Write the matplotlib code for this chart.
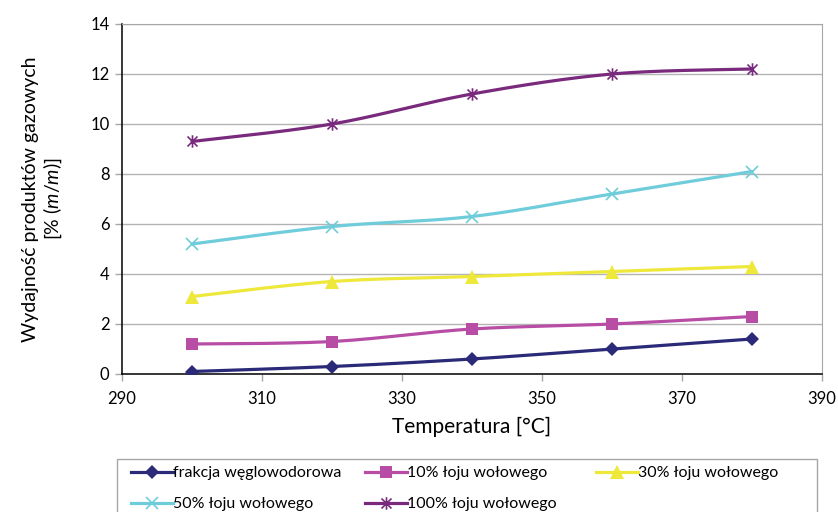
import numpy as np
import matplotlib
matplotlib.use("Agg")
import matplotlib.pyplot as plt
from matplotlib.path import Path
from matplotlib.lines import Line2D
from matplotlib.patches import Rectangle

plt.rcParams["font.family"] = ["Lato", "DejaVu Sans"]
plt.rcParams["mathtext.fontset"] = "custom"
plt.rcParams["mathtext.rm"] = "Lato"
plt.rcParams["mathtext.it"] = "Lato:italic"

# Data
temperatures = [300, 320, 340, 360, 380]
frakcja = [0.1, 0.3, 0.6, 1.0, 1.4]
loj_10 = [1.2, 1.3, 1.8, 2.0, 2.3]
loj_30 = [3.1, 3.7, 3.9, 4.1, 4.3]
loj_50 = [5.2, 5.9, 6.3, 7.2, 8.1]
loj_100 = [9.3, 10.0, 11.2, 12.0, 12.2]
labels = ["frakcja węglowodorowa", "10% łoju wołowego", "30% łoju wołowego",
          "50% łoju wołowego", "100% łoju wołowego"]
x_ticks = [290, 310, 330, 350, 370, 390]
y_ticks = [0, 2, 4, 6, 8, 10, 12, 14]

# Asterisk-style marker: vertical bar plus two diagonals
star = Path([(0, -1), (0, 1), (-0.8, -0.8), (0.8, 0.8), (-0.8, 0.8), (0.8, -0.8)],
            [Path.MOVETO, Path.LINETO, Path.MOVETO, Path.LINETO, Path.MOVETO, Path.LINETO])

styles = [
    dict(color="#2B2A78", marker="D", ms=7.5, mew=0),
    dict(color="#B84DA6", marker="s", ms=8.5, mew=0),
    dict(color="#EEE83A", marker="^", ms=9.5, mew=0),
    dict(color="#6FCCDA", marker="x", ms=8.5, mew=1.2),
    dict(color="#7A2A7D", marker=star, ms=9, mew=1.2),
]


def smooth(xs, ys, n=40):
    """Bezier smoothing through the points (Catmull-Rom style, tension 1/6)."""
    p = np.column_stack([xs, ys]).astype(float)
    ext = np.vstack([p[0], p, p[-1]])
    out = []
    for i in range(len(p) - 1):
        p0, p3 = p[i], p[i + 1]
        c1 = p0 + (ext[i + 2] - ext[i]) / 6.0
        c2 = p3 - (ext[i + 3] - ext[i + 1]) / 6.0
        t = np.linspace(0, 1, n)[:, None]
        seg = ((1 - t) ** 3) * p0 + 3 * ((1 - t) ** 2) * t * c1 + 3 * (1 - t) * t ** 2 * c2 + t ** 3 * p3
        out.append(seg if i == 0 else seg[1:])
    s = np.vstack(out)
    return s[:, 0], s[:, 1]


W, H = 838, 512
fig = plt.figure(figsize=(W / 100, H / 100), dpi=100)
ax = fig.add_axes([122 / W, (H - 374) / H, 700 / W, 350 / H])

series = [frakcja, loj_10, loj_30, loj_50, loj_100]
handles = []
for ys, st, lab in zip(series, styles, labels):
    sx, sy = smooth(temperatures, ys)
    ax.plot(sx, sy, color=st["color"], lw=2.3, solid_capstyle="round", zorder=3)
    ax.plot(temperatures, ys, ls="none", marker=st["marker"], ms=st["ms"],
            mfc=st["color"], mec=st["color"], mew=st["mew"], zorder=4)
    handles.append(Line2D([], [], color=st["color"], lw=2.3, marker=st["marker"],
                          ms=st["ms"], mfc=st["color"], mec=st["color"], mew=st["mew"]))

ax.set_xlim(290, 390)
ax.set_ylim(0, 14)
ax.set_xticks(x_ticks)
ax.set_yticks(y_ticks)
ax.yaxis.grid(True, color="#B3B3B3", lw=1)
ax.set_axisbelow(True)
for side in ["top", "right"]:
    ax.spines[side].set_color("#A6A6A6")
for side in ["left", "bottom"]:
    ax.spines[side].set_color("black")
    ax.spines[side].set_linewidth(1.1)
ax.tick_params(axis="both", direction="out", length=5, width=1, color="#A6A6A6",
               labelsize=12, pad=4)
ax.tick_params(axis="x", pad=7)

ax.set_xlabel("Temperatura [°C]", fontsize=15, labelpad=7)
ax.set_ylabel("Wydajność produktów gazowych\n[% ($\\mathit{m}$/$\\mathit{m}$)]",
              fontsize=14, labelpad=19, linespacing=1.15)

# Legend frame and three legend columns
fig.patches.append(Rectangle((117 / W, -0.02), 700 / W, (H - 459) / H + 0.02,
                             transform=fig.transFigure, fill=False,
                             edgecolor="#A6A6A6", lw=1))
col_x = [131, 365, 596]
col_items = [[0, 3], [1, 4], [2]]
for cx, items in zip(col_x, col_items):
    leg = fig.legend([handles[i] for i in items], [labels[i] for i in items],
                     loc="upper left", bbox_to_anchor=(cx / W, (H - 466) / H),
                     frameon=False, fontsize=11.5, handlelength=2.6,
                     handletextpad=0.05, labelspacing=1.05, borderpad=0,
                     borderaxespad=0)

fig.savefig("out.png", dpi=100)
